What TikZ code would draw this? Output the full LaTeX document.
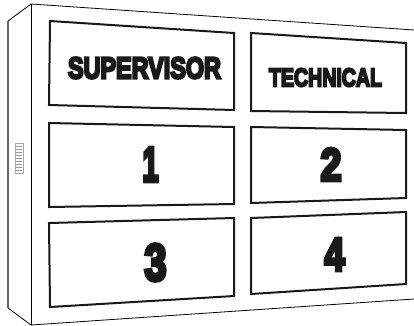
\documentclass[tikz,border=0pt]{standalone}
\usepackage{fontspec}
\newfontfamily\panelfont{Liberation Sans}
\usetikzlibrary{calc}
\newcommand{\PanelLabel}[3]{\resizebox{#1}{#2}{\panelfont\bfseries\special{pdf:code 2 Tr 0.8 w 0 j}#3\special{pdf:code 0 Tr}}}
\tikzset{
    frame/.style={draw=black, line width=0.8pt},
    panel/.style={draw=black!90, line width=2pt, line join=miter},
    label/.style={inner sep=0pt, text=black!90},
}

\begin{document}
\begin{tikzpicture}[x=1pt, y=-1pt]
    \useasboundingbox (0,0) rectangle (414,325);
    % cabinet
    \coordinate (F1) at (31, 4);
    \coordinate (F2) at (414, 30);
    \coordinate (F3) at (414, 299);
    \coordinate (F4) at (31, 325);
    \coordinate (S1) at (8, 21);
    \coordinate (S2) at (8, 308);

    \draw[frame] (F1) -- (F2);
    \draw[frame] (F4) -- (F3);
    \draw[frame] (F1) -- (F4);
    \draw[frame] (S1) -- (F1);
    \draw[frame] (S2) -- (F4);
    \draw[draw=black!60, line width=1.2pt] (S1) -- (S2);

    % vent on the side
    \draw[black!35, line width=0.5pt] (15,143) rectangle (23,173);
    \foreach \y in {146,149,...,170}{
        \draw[black!40, line width=0.6pt] (16,\y) -- (22,\y);
    }

    % screens
    \draw[panel] (50,21) -- (234,33) -- (234,110) -- (49,105) -- cycle;
    \draw[panel] (251,33) -- (406,43) -- (406,113) -- (251,111) -- cycle;
    \draw[panel] (49,123) -- (234,127) -- (234,204) -- (49,207) -- cycle;
    \draw[panel] (251,127) -- (406,130) -- (406,198) -- (251,203) -- cycle;
    \draw[panel] (49,223) -- (234,218) -- (234,296) -- (50,307) -- cycle;
    \draw[panel] (251,218) -- (406,212) -- (406,284) -- (251,294) -- cycle;

    % labels
    \node[label] (sup)  at (144.5,68) {\PanelLabel{153pt}{21pt}{SUPERVISOR}};
    \node[label] (tech) at (325.5,77.5) {\PanelLabel{113pt}{18pt}{TECHNICAL}};
    \node[label] (one)  at (150.5,164.5) {\PanelLabel{16pt}{34pt}{1}};
    \node[label] (two)  at (331,164.5) {\PanelLabel{21pt}{32pt}{2}};
    \node[label] (three) at (155.5,262.5) {\PanelLabel{22pt}{36pt}{3}};
    \node[label] (four) at (334.5,254.5) {\PanelLabel{20pt}{32pt}{4}};
\end{tikzpicture}
\end{document}
